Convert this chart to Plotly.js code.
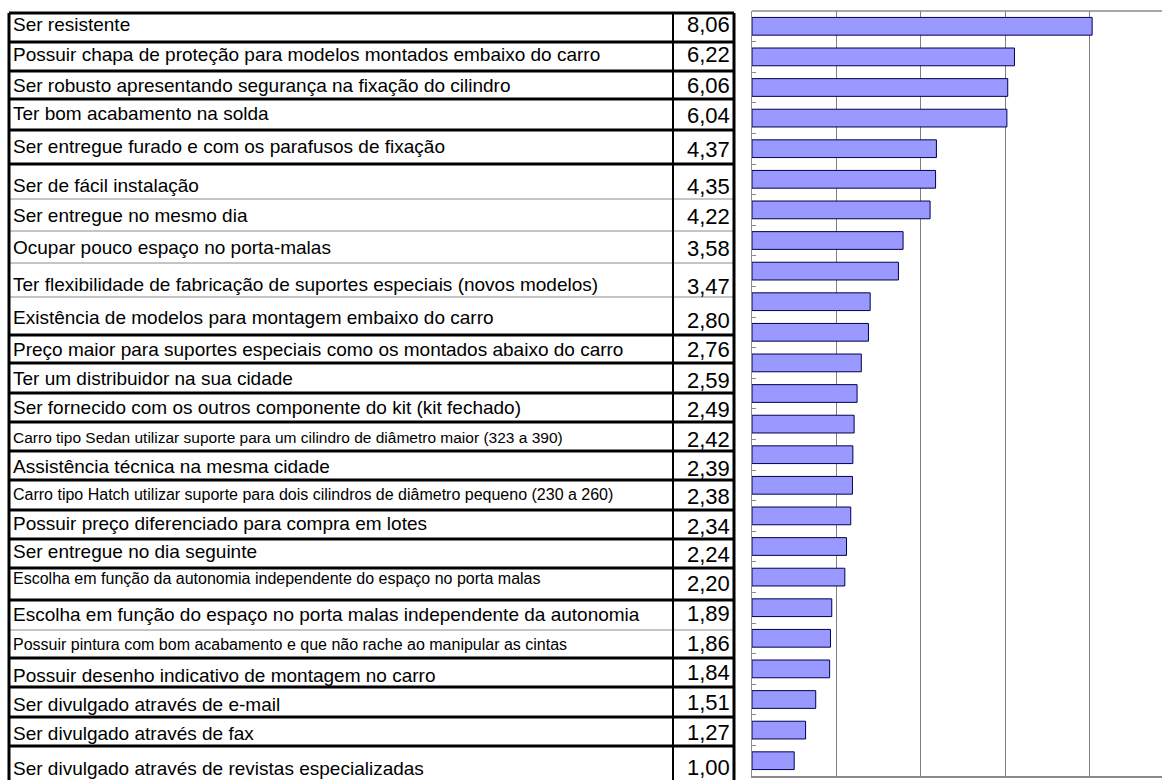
<!DOCTYPE html>
<html><head><meta charset="utf-8">
<script src="https://cdn.plot.ly/plotly-3.0.1.min.js"></script>
<style>html,body{margin:0;padding:0;background:#fff}</style>
</head><body><div id="chart" style="width:1162px;height:780px"></div>
<script>
// ---- data ----
const categories = [
  "Ser resistente",
  "Possuir chapa de proteção para modelos montados embaixo do carro",
  "Ser robusto apresentando segurança na fixação do cilindro",
  "Ter bom acabamento na solda",
  "Ser entregue furado e com os parafusos de fixação",
  "Ser de fácil instalação",
  "Ser entregue no mesmo dia",
  "Ocupar pouco espaço no porta-malas",
  "Ter flexibilidade de fabricação de suportes especiais (novos modelos)",
  "Existência de modelos para montagem embaixo do carro",
  "Preço maior para suportes especiais como os montados abaixo do carro",
  "Ter um distribuidor na sua cidade",
  "Ser fornecido com os outros componente do kit (kit fechado)",
  "Carro tipo Sedan utilizar suporte para um cilindro de diâmetro maior (323 a 390)",
  "Assistência técnica na mesma cidade",
  "Carro tipo Hatch utilizar suporte para dois cilindros de diâmetro pequeno (230 a 260)",
  "Possuir preço diferenciado para compra em lotes",
  "Ser entregue no dia seguinte",
  "Escolha em função da autonomia independente do espaço no porta malas",
  "Escolha em função do espaço no porta malas independente da autonomia",
  "Possuir pintura com bom acabamento e que não rache ao manipular as cintas",
  "Possuir desenho indicativo de montagem no carro",
  "Ser divulgado através de e-mail",
  "Ser divulgado através de fax",
  "Ser divulgado através de revistas especializadas"
];
const values = [8.06, 6.22, 6.06, 6.04, 4.37, 4.35, 4.22, 3.58, 3.47, 2.80, 2.76, 2.59, 2.49,
                2.42, 2.39, 2.38, 2.34, 2.24, 2.20, 1.89, 1.86, 1.84, 1.51, 1.27, 1.00];
const valueLabels = values.map(v => v.toFixed(2).replace('.', ','));

// ---- table layout (pixel positions, styles) ----
const W = 1162, H = 780;
const rowEdges = [13,42,71,99,130,164,199,231,263,297,335,363,393,422,451,480,510,539,568,600,630,658,687,717,746,780];
const thinEdges = [199,231,263,297,630];
const labelY = [24,55,85,113,146,185,215,247,284,317,349,378,407,437,466,494,523,551,578,614,644,675,704,733,768];
const valueY = [24,55,85,115,149,186,216,249,286,320,350,380,409,439,468,497,526,554,583,613,643,672,702,732,767];
const labelSize = i => (i === 13 ? 15.5 : ([15,18,20].includes(i) ? 16 : 19));
const tableLeft = 9, colSep = 673, tableRight = 734;
const plotLeft = 752, plotTop = 11, plotBottom = 776;

const px = x => x / W;
const py = y => 1 - y / H;

const shapes = [];
rowEdges.forEach((y, i) => {
  if (i === rowEdges.length - 1) return;
  const thin = thinEdges.includes(y);
  shapes.push({type:'line', xref:'paper', yref:'paper', x0:px(tableLeft), x1:px(tableRight), y0:py(y), y1:py(y),
    line:{color: thin ? '#8a8a8a' : '#000000', width: thin ? 1 : 3}});
});
[[tableLeft,3],[colSep,2],[tableRight,3]].forEach(([x,w]) => {
  shapes.push({type:'line', xref:'paper', yref:'paper', x0:px(x), x1:px(x), y0:py(rowEdges[0]), y1:py(H),
    line:{color:'#000000', width:w}});
});
// plot area top border
shapes.push({type:'line', xref:'paper', yref:'paper', x0:px(plotLeft), x1:1, y0:py(plotTop), y1:py(plotTop),
  line:{color:'#8a8a8a', width:1.5}});

const annotations = [];
categories.forEach((c, i) => {
  annotations.push({xref:'paper', yref:'paper', x:px(11), y:py(labelY[i]), xanchor:'left', yanchor:'middle',
    text:c, showarrow:false, font:{family:'Liberation Sans, Arial, sans-serif', size: labelSize(i), color:'#000'}});
  annotations.push({xref:'paper', yref:'paper', x:px(732), y:py(valueY[i]), xanchor:'right', yanchor:'middle',
    text:valueLabels[i], showarrow:false, font:{family:'Liberation Sans, Arial, sans-serif', size:22, color:'#000'}});
});

const trace = {
  type:'bar', orientation:'h', y:categories, x:values,
  marker:{color:'#9999FF', line:{color:'#000050', width:1}},
  hoverinfo:'skip'
};

const layout = {
  width:W, height:H, margin:{l:0,r:0,t:0,b:0},
  paper_bgcolor:'#ffffff', plot_bgcolor:'#ffffff',
  showlegend:false, bargap:0.42,
  xaxis:{domain:[px(plotLeft),1], range:[0, (W-plotLeft)/42.2], dtick:2, showgrid:true, gridcolor:'#808080', gridwidth:1,
    zeroline:false, showticklabels:false, showline:true, linecolor:'#8a8a8a', linewidth:1.5, ticks:''},
  yaxis:{domain:[py(plotBottom), py(plotTop)], type:'category', autorange:'reversed', showticklabels:false,
    showgrid:false, zeroline:false, showline:true, linecolor:'#8a8a8a', linewidth:1.5,
    ticks:'inside', tickson:'boundaries', ticklen:4, tickcolor:'#8a8a8a'},
  shapes:shapes, annotations:annotations
};

Plotly.newPlot('chart', [trace], layout, {staticPlot:true, displayModeBar:false});
</script>
</body></html>
